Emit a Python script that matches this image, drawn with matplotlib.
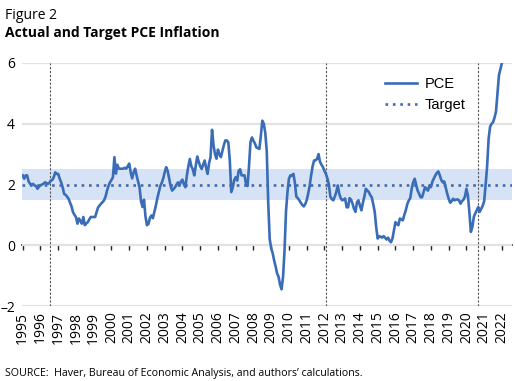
import numpy as np
import matplotlib
matplotlib.use("Agg")
import matplotlib.pyplot as plt

# PCE inflation, year-over-year %, monthly from Jan 1995 to Jan 2022
pce = [
    2.30, 2.19, 2.30, 2.30, 2.10, 2.02, 2.00, 2.02, 1.97, 1.95, 1.86, 1.93,  # 1995
    1.97, 2.00, 2.02, 2.07, 2.05, 2.02, 2.05, 2.13, 2.15, 2.24, 2.40, 2.35,  # 1996
    2.35, 2.19, 2.07, 1.91, 1.69, 1.66, 1.60, 1.53, 1.40, 1.28, 1.09, 1.00,  # 1997
    0.93, 0.71, 0.88, 0.80, 0.71, 0.93, 0.66, 0.72, 0.76, 0.85, 0.93, 0.93,  # 1998
    0.93, 0.93, 1.10, 1.25, 1.31, 1.37, 1.42, 1.48, 1.60, 1.80, 1.95, 2.07,  # 1999
    2.15, 2.24, 2.90, 2.36, 2.65, 2.52, 2.52, 2.52, 2.52, 2.55, 2.52, 2.60,  # 2000
    2.69, 2.40, 2.20, 2.40, 2.52, 2.30, 2.10, 1.90, 1.45, 1.26, 1.50, 0.95,  # 2001
    0.66, 0.70, 0.90, 0.98, 0.89, 1.10, 1.30, 1.54, 1.75, 1.95, 2.05, 2.20,  # 2002
    2.40, 2.57, 2.45, 2.20, 1.95, 1.80, 1.85, 1.91, 2.00, 2.07, 1.97, 2.10,  # 2003
    2.16, 2.00, 1.91, 2.30, 2.60, 2.84, 2.60, 2.50, 2.30, 2.60, 2.92, 2.75,  # 2004
    2.60, 2.51, 2.65, 2.79, 2.55, 2.35, 2.70, 2.90, 3.80, 3.30, 3.00, 2.85,  # 2005
    3.15, 3.00, 2.90, 3.10, 3.30, 3.45, 3.45, 3.39, 2.80, 1.75, 1.90, 2.15,  # 2006
    2.24, 2.13, 2.45, 2.50, 2.30, 2.30, 2.30, 2.00, 1.95, 2.60, 3.40, 3.55,  # 2007
    3.44, 3.35, 3.22, 3.20, 3.17, 3.60, 4.10, 4.00, 3.70, 3.10, 1.40, 0.20,  # 2008
    -0.10, -0.26, -0.50, -0.70, -0.93, -1.04, -1.30, -1.45, -1.05, -0.20, 1.10, 1.75,  # 2009
    2.19, 2.30, 2.30, 2.35, 2.07, 1.60, 1.55, 1.48, 1.40, 1.33, 1.28, 1.35,  # 2010
    1.48, 1.70, 1.95, 2.30, 2.60, 2.79, 2.80, 2.84, 3.00, 2.75, 2.65, 2.57,  # 2011
    2.45, 2.35, 2.20, 2.00, 1.60, 1.52, 1.48, 1.60, 1.75, 1.97, 1.70, 1.55,  # 2012
    1.48, 1.50, 1.54, 1.25, 1.25, 1.55, 1.50, 1.37, 1.20, 1.10, 1.42, 1.48,  # 2013
    1.30, 1.15, 1.40, 1.60, 1.86, 1.80, 1.75, 1.65, 1.58, 1.35, 1.10, 0.60,  # 2014
    0.22, 0.30, 0.28, 0.25, 0.30, 0.25, 0.19, 0.25, 0.15, 0.10, 0.22, 0.49,  # 2015
    0.76, 0.70, 0.66, 0.88, 0.85, 0.82, 1.00, 1.15, 1.35, 1.47, 1.55, 1.86,  # 2016
    2.07, 2.19, 2.00, 1.80, 1.70, 1.58, 1.58, 1.75, 1.91, 1.85, 1.80, 1.97,  # 2017
    1.91, 2.10, 2.20, 2.30, 2.38, 2.43, 2.30, 2.15, 2.07, 2.10, 1.90, 1.70,  # 2018
    1.53, 1.40, 1.45, 1.53, 1.48, 1.50, 1.51, 1.48, 1.37, 1.45, 1.50, 1.60,  # 2019
    1.86, 1.64, 1.09, 0.44, 0.60, 0.93, 1.05, 1.15, 1.26, 1.10, 1.20, 1.30,  # 2020
    1.45, 2.00, 2.60, 3.50, 3.90, 4.00, 4.05, 4.20, 4.40, 5.00, 5.60, 5.80,  # 2021
    6.00,                                                                    # 2022
]
dates = 1995 + np.arange(len(pce)) / 12

target = 2.0
band_low, band_high = 1.5, 2.5
event_dates = [1996.54, 2012.08, 2020.66]
years = list(range(1995, 2023))
y_ticks = [-2, 0, 2, 4, 6]

blue = "#3a6db8"
plt.rcParams["font.family"] = ["Open Sans", "DejaVu Sans"]

fig = plt.figure(figsize=(5.15, 3.81), dpi=100)
ax = fig.add_axes([22 / 515, 1 - 306 / 381, 489.5 / 515, 243 / 381])

ax.set_xlim(1994.96, 2022.54)
ax.set_ylim(-2, 6)

# band around target
ax.axhspan(band_low, band_high, color="#d6e2f5", lw=0, zorder=0)

ax.set_yticks(y_ticks)
ax.set_yticklabels([str(v) if v >= 0 else "\u2013" + str(-v) for v in y_ticks])
ax.yaxis.grid(True, color="#e2e2e2", lw=1.6, zorder=0)
ax.set_axisbelow(True)
ax.tick_params(axis="y", length=0, pad=5, labelsize=10)

ax.set_xticks(years)
ax.set_xticklabels([str(y) for y in years], rotation=90)
ax.tick_params(axis="x", length=0, pad=4, labelsize=10)

for s in ["left", "right", "top", "bottom"]:
    ax.spines[s].set_visible(False)

# zero line with tick marks
zero_ax = ax.secondary_xaxis(0.25)
zero_ax.set_xticks(years)
zero_ax.tick_params(axis="x", direction="out", length=3.5, width=1.0, labelbottom=False, color="#222222")
zero_ax.spines["bottom"].set_color("#222222")
zero_ax.spines["bottom"].set_linewidth(1.2)

for d in event_dates:
    ax.axvline(d, color="#555555", lw=0.8, ls=(0, (2, 1.5)), zorder=1)

ax.plot(dates, pce, color=blue, lw=1.9, label="PCE", zorder=3)
ax.axhline(target, color=blue, lw=1.9, ls=(0, (1, 1.8)), label="Target", zorder=2)

leg = ax.legend(loc="upper left", bbox_to_anchor=(0.715, 0.995), frameon=False,
                handlelength=2.2, handletextpad=0.5, labelspacing=0.45,
                prop={"family": ["Liberation Sans"], "size": 10.5})

fig.text(5 / 515, 1 - 19 / 381, "Figure 2", fontsize=10, ha="left", va="baseline")
fig.text(5 / 515, 1 - 37 / 381, "Actual and Target PCE Inflation", fontsize=10,
         fontweight="bold", ha="left", va="baseline")
fig.text(5 / 515, 1 - 376 / 381, "SOURCE:  Haver, Bureau of Economic Analysis, and authors\u2019 calculations.",
         fontsize=7.7, ha="left", va="baseline")

fig.savefig("out.png", dpi=100)
